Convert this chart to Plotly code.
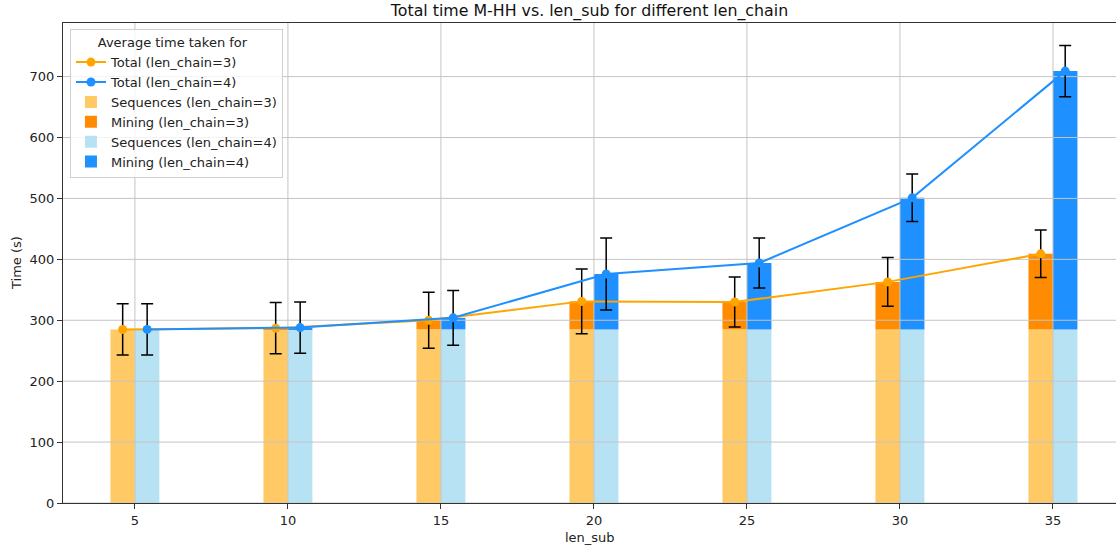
import plotly.graph_objects as go

len_sub = [5, 10, 15, 20, 25, 30, 35]
seq3 = [285, 285, 285, 285, 285, 285, 285]
seq4 = [285, 285, 285, 285, 285, 285, 285]
total3 = [285, 287, 300, 331, 330, 363, 409]
total4 = [285, 288, 304, 376, 394, 501, 709]
err3 = [42, 42, 46, 53, 41, 40, 39]
err4 = [42, 42, 45, 59, 41, 39, 42]
x_ticks = [5, 10, 15, 20, 25, 30, 35]
y_ticks = [0, 100, 200, 300, 400, 500, 600, 700]

BAR_W = 0.8
X_RANGE = [2.65, 37.06]
Y_RANGE = [0, 788]

mining3 = [t - s for t, s in zip(total3, seq3)]
mining4 = [t - s for t, s in zip(total4, seq4)]
x3 = [x - BAR_W / 2 for x in len_sub]
x4 = [x + BAR_W / 2 for x in len_sub]

FONT = "DejaVu Sans"
fig = go.Figure()

# Bars
fig.add_trace(go.Bar(x=len_sub, y=seq3, offset=-BAR_W, width=BAR_W,
                     marker=dict(color="#FFC966", line=dict(width=0)),
                     name="Sequences (len_chain=3)", legendrank=3))
fig.add_trace(go.Bar(x=len_sub, y=mining3, base=seq3, offset=-BAR_W, width=BAR_W,
                     marker=dict(color="#FF8C00", line=dict(width=0)),
                     name="Mining (len_chain=3)", legendrank=4))
fig.add_trace(go.Bar(x=len_sub, y=seq4, offset=0, width=BAR_W,
                     marker=dict(color="#B7E2F3", line=dict(width=0)),
                     name="Sequences (len_chain=4)", legendrank=5))
fig.add_trace(go.Bar(x=len_sub, y=mining4, base=seq4, offset=0, width=BAR_W,
                     marker=dict(color="#1E90FF", line=dict(width=0)),
                     name="Mining (len_chain=4)", legendrank=6))

# Grid drawn above bars, below lines (like matplotlib)
gx, gy = [], []
for t in x_ticks:
    gx += [t, t, None]
    gy += [Y_RANGE[0], Y_RANGE[1], None]
for t in y_ticks:
    gx += [X_RANGE[0], X_RANGE[1], None]
    gy += [t, t, None]
fig.add_trace(go.Scatter(x=gx, y=gy, mode="lines", line=dict(color="#c4c4c4", width=1),
                         showlegend=False, hoverinfo="skip"))

# Lines with error bars
fig.add_trace(go.Scatter(x=x3, y=total3, mode="lines+markers", name="Total (len_chain=3)",
                         line=dict(color="#FFA500", width=2), marker=dict(size=9, color="#FFA500"),
                         error_y=dict(type="data", array=err3, color="black", thickness=1.5, width=6),
                         legendrank=1))
fig.add_trace(go.Scatter(x=x4, y=total4, mode="lines+markers", name="Total (len_chain=4)",
                         line=dict(color="#1E90FF", width=2), marker=dict(size=9, color="#1E90FF"),
                         error_y=dict(type="data", array=err4, color="black", thickness=1.5, width=6),
                         legendrank=2))

fig.update_layout(
    width=1116, height=548,
    margin=dict(l=63, r=0, t=23, b=45, autoexpand=False),
    plot_bgcolor="white", paper_bgcolor="white",
    barmode="overlay",
    font=dict(family=FONT, size=12.5, color="#222"),
    title=dict(text="Total time M-HH vs. len_sub for different len_chain",
               x=0.5, xanchor="center", xref="paper",
               y=1 - 10 / 548, yanchor="middle", yref="container",
               font=dict(family=FONT, size=15.8, color="#111")),
    legend=dict(x=0.0066, y=0.987, xanchor="left", yanchor="top",
                bgcolor="rgba(255,255,255,0.8)", bordercolor="#d0d0d0", borderwidth=1,
                title=dict(text="      Average time taken for", side="top", font=dict(size=13)),
                font=dict(size=13), traceorder="normal", itemwidth=30),
    showlegend=True,
    annotations=[
        dict(text="len_sub", xref="paper", yref="paper", x=0.5, y=-(537 - 503) / 480,
             xanchor="center", yanchor="middle", showarrow=False, font=dict(size=13)),
        dict(text="Time (s)", xref="paper", yref="paper", x=-(63 - 16) / 1053, y=0.5,
             xanchor="center", yanchor="middle", showarrow=False, textangle=-90,
             font=dict(size=13)),
    ],
)
fig.update_xaxes(range=X_RANGE, tickvals=x_ticks, showgrid=False, zeroline=False,
                 showline=True, linecolor="#333", linewidth=1, mirror=True,
                 ticks="outside", ticklen=5, tickcolor="#333", automargin=False,
                 tickfont=dict(size=13))
fig.update_yaxes(range=Y_RANGE, tickvals=y_ticks, showgrid=False, zeroline=False,
                 showline=True, linecolor="#333", linewidth=1, mirror=False,
                 ticks="outside", ticklen=5, tickcolor="#333", automargin=False,
                 tickfont=dict(size=13))

fig.write_html("out.html", config={"displayModeBar": False},
               post_script="document.body.style.margin='0';document.body.style.overflow='hidden';")
